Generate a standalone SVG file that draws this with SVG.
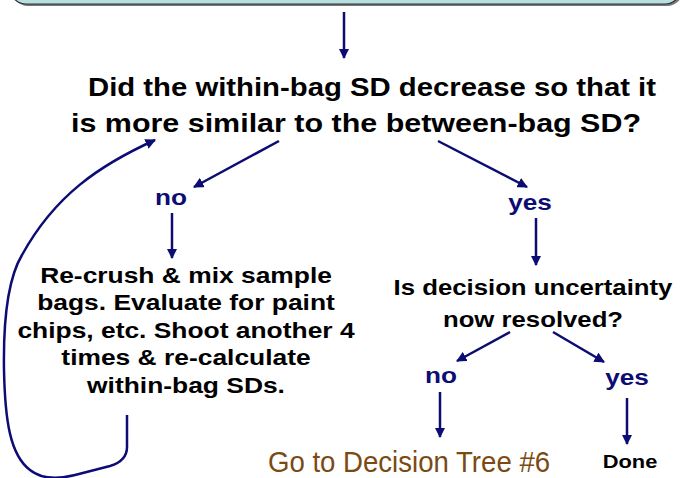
<svg xmlns="http://www.w3.org/2000/svg" width="690" height="478" viewBox="0 0 690 478">
<style>
.q{font-family:"Liberation Sans",Arial,sans-serif;font-weight:bold;fill:#000;text-anchor:middle}
.lbl{font-family:"Liberation Sans",Arial,sans-serif;font-weight:bold;fill:#0c0c72;text-anchor:middle;font-size:22px}
.c{fill:none;stroke:#0c0c72;stroke-width:2.5}
</style>
<defs>
<marker id="ah" viewBox="0 0 10 10" refX="9" refY="5" markerWidth="4.2" markerHeight="4.2" orient="auto" markerUnits="strokeWidth">
<path d="M0,0 L10,5 L0,10 z" fill="#0c0c72"/>
</marker>
</defs>
<rect width="690" height="478" fill="#fff"/>
<g id="topbox">
<rect x="12" y="-38" width="671" height="44" rx="16" fill="#777"/>
<rect x="10" y="-40" width="671" height="44" rx="16" fill="#b9e0e0" stroke="#333" stroke-width="1.2"/>
</g>
<g id="connectors">
<path class="c" d="M344,12 L344,58" marker-end="url(#ah)"/>
<path class="c" d="M279,141 L194,187" marker-end="url(#ah)"/>
<path class="c" d="M438,141 L527,187" marker-end="url(#ah)"/>
<path class="c" d="M172,213 L172,258" marker-end="url(#ah)"/>
<path class="c" d="M536,218 L536,265" marker-end="url(#ah)"/>
<path class="c" d="M510,332 L457,361" marker-end="url(#ah)"/>
<path class="c" d="M553,332 L604,362" marker-end="url(#ah)"/>
<path class="c" d="M440,392 L440,437" marker-end="url(#ah)"/>
<path class="c" d="M627,398 L627,444" marker-end="url(#ah)"/>
<path class="c" d="M127,415 L127,447 C127,458 120,463 110,466 L75,475 C55,480 40,478 30,470 C10,455 5,420 4,370 C3,310 10,275 22,255 C55,195 100,165 155,140" marker-end="url(#ah)"/>
</g>
<g id="question1">
<text class="q" font-size="25" x="372" y="96" textLength="568" lengthAdjust="spacingAndGlyphs">Did the within-bag SD decrease so that it</text>
<text class="q" font-size="25" x="356" y="132" textLength="570" lengthAdjust="spacingAndGlyphs">is more similar to the between-bag SD?</text>
</g>
<g id="no1"><text class="lbl" transform="translate(171 205) scale(1.19 1)">no</text></g>
<g id="yes1"><text class="lbl" transform="translate(530 210) scale(1.19 1)">yes</text></g>
<g id="recrush">
<text class="q" font-size="22" transform="translate(186 283) scale(1.2 1)">Re-crush &amp; mix sample</text>
<text class="q" font-size="22" transform="translate(186 310) scale(1.2 1)">bags. Evaluate for paint</text>
<text class="q" font-size="22" transform="translate(186 338) scale(1.2 1)">chips, etc. Shoot another 4</text>
<text class="q" font-size="22" transform="translate(186 365) scale(1.2 1)">times &amp; re-calculate</text>
<text class="q" font-size="22" transform="translate(186 393) scale(1.2 1)">within-bag SDs.</text>
</g>
<g id="question2">
<text class="q" font-size="22" transform="translate(533 295) scale(1.17 1)">Is decision uncertainty</text>
<text class="q" font-size="22" transform="translate(533 327) scale(1.17 1)">now resolved?</text>
</g>
<g id="no2"><text class="lbl" transform="translate(441 383) scale(1.19 1)">no</text></g>
<g id="yes2"><text class="lbl" transform="translate(627 385) scale(1.19 1)">yes</text></g>
<g id="goto"><text font-family="'Liberation Sans',Arial,sans-serif" font-size="30" fill="#7b4a12" text-anchor="middle" transform="translate(409 472) scale(0.92 1)">Go to Decision Tree #6</text></g>
<g id="done"><text class="q" font-size="19" transform="translate(630 468) scale(1.15 1)">Done</text></g>
</svg>
